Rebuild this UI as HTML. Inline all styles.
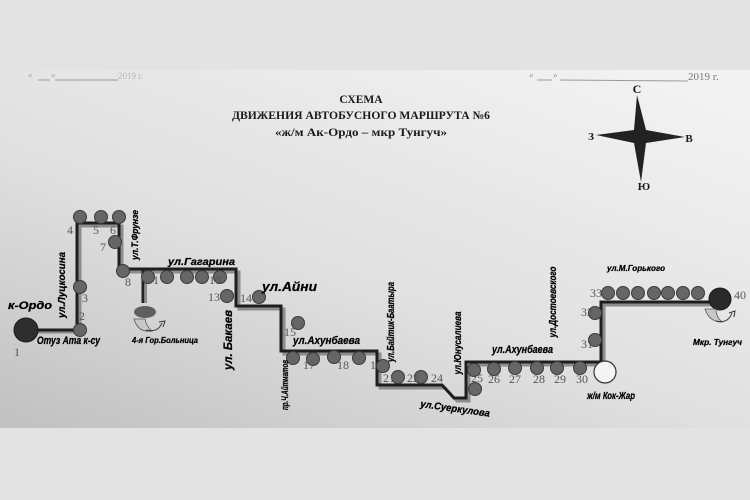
<!DOCTYPE html>
<html><head><meta charset="utf-8"><style>
html,body{margin:0;padding:0;background:#e3e3e3;}
svg{display:block;}
.n{font-family:"Liberation Serif",serif;font-size:12px;fill:#555;}
.s{font-family:"Liberation Sans",sans-serif;font-weight:bold;font-style:italic;fill:#000;stroke:#000;stroke-width:0.25;}
.t{font-family:"Liberation Serif",serif;font-weight:bold;fill:#1a1a1a;}
</style></head><body>
<svg width="750" height="500" viewBox="0 0 750 500" xmlns="http://www.w3.org/2000/svg">
<defs>
<linearGradient id="pg" x1="0.85" y1="0" x2="0.05" y2="1">
<stop offset="0" stop-color="#f2f2f2"/>
<stop offset="0.55" stop-color="#e0e0e0"/>
<stop offset="1" stop-color="#c2c2c2"/>
</linearGradient>
</defs>
<rect x="0" y="0" width="750" height="500" fill="#e3e3e3"/>
<rect x="0" y="70" width="750" height="358" fill="url(#pg)"/>

<!-- date lines -->
<g fill="none" stroke="#9a9a9a" stroke-width="1">
<line x1="38" y1="80" x2="50" y2="80"/><line x1="55" y1="80" x2="118" y2="80"/>
<line x1="537" y1="80" x2="552" y2="80"/><line x1="560" y1="80" x2="688" y2="81"/>
</g>
<text x="28" y="78" font-family="Liberation Serif" font-size="9" fill="#aaa">«</text>
<text x="51" y="78" font-family="Liberation Serif" font-size="9" fill="#aaa">»</text>
<text x="118" y="79" font-family="Liberation Serif" font-size="9" fill="#b5b5b5">2019 г.</text>
<text x="529" y="78" font-family="Liberation Serif" font-size="9" fill="#999">«</text>
<text x="553" y="78" font-family="Liberation Serif" font-size="9" fill="#999">»</text>
<text x="688" y="80" font-family="Liberation Serif" font-size="11" fill="#777">2019 г.</text>

<!-- title -->
<text class="t" x="361" y="103" font-size="11.5" text-anchor="middle">СХЕМА</text>
<text class="t" x="361" y="119" font-size="11.5" text-anchor="middle" textLength="258" lengthAdjust="spacingAndGlyphs">ДВИЖЕНИЯ АВТОБУСНОГО МАРШРУТА №6</text>
<text class="t" x="361" y="136" font-size="12" text-anchor="middle" textLength="172" lengthAdjust="spacingAndGlyphs">«ж/м Ак-Ордо – мкр  Тунгуч»</text>

<!-- compass -->
<polygon points="637,95 646,130 685,137 646,143 641,182 634,143 596,135 634,130" fill="#222"/>
<text class="t" x="637" y="93" font-size="12" text-anchor="middle">С</text>
<text class="t" x="689" y="142" font-size="11" text-anchor="middle">В</text>
<text class="t" x="591" y="140" font-size="11" text-anchor="middle">З</text>
<text class="t" x="644" y="190" font-size="11" text-anchor="middle">Ю</text>

<!-- route -->
<g fill="none" stroke-linejoin="miter">
<path d="M28,332 L80,332 L80,226 L122,226 L122,272 L239,272 L239,309 L284,309 L284,354 L380,354 L380,388 L445,388 L457,401 L469,401 L469,365 L604,365 L604,305 L720,305" stroke="#8c8c8c" stroke-width="3"/>
<path d="M26,330 L77,330 L77,223 L119,223 L119,269 L236,269 L236,306 L281,306 L281,351 L377,351 L377,385 L442,385 L454,398 L466,398 L466,362 L601,362 L601,302 L720,302" stroke="#1e1e1e" stroke-width="3"/>
<path d="M143,270 L143,303" stroke="#222" stroke-width="3"/>
<path d="M146,272 L146,303" stroke="#8c8c8c" stroke-width="2"/>
</g>

<!-- stops -->
<g fill="#666" stroke="#3a3a3a" stroke-width="1">
<circle cx="80" cy="330" r="6.5"/>
<circle cx="80" cy="287" r="6.5"/>
<circle cx="80" cy="217" r="6.5"/>
<circle cx="101" cy="217" r="6.5"/>
<circle cx="119" cy="217" r="6.5"/>
<circle cx="115" cy="242" r="6.5"/>
<circle cx="123" cy="271" r="6.5"/>
<circle cx="148" cy="277" r="6.5"/>
<circle cx="167" cy="277" r="6.5"/>
<circle cx="187" cy="277" r="6.5"/>
<circle cx="202" cy="277" r="6.5"/>
<circle cx="220" cy="277" r="6.5"/>
<circle cx="227" cy="296" r="6.5"/>
<circle cx="259" cy="297" r="6.5"/>
<circle cx="298" cy="323" r="6.5"/>
<circle cx="293" cy="358" r="6.5"/>
<circle cx="313" cy="359" r="6.5"/>
<circle cx="334" cy="357" r="6.5"/>
<circle cx="359" cy="358" r="6.5"/>
<circle cx="383" cy="366" r="6.5"/>
<circle cx="398" cy="377" r="6.5"/>
<circle cx="421" cy="377" r="6.5"/>
<circle cx="474" cy="370" r="6.5"/>
<circle cx="494" cy="369" r="6.5"/>
<circle cx="515" cy="368" r="6.5"/>
<circle cx="537" cy="368" r="6.5"/>
<circle cx="557" cy="368" r="6.5"/>
<circle cx="580" cy="368" r="6.5"/>
<circle cx="475" cy="389" r="6.5"/>
<circle cx="595" cy="340" r="6.5"/>
<circle cx="595" cy="313" r="6.5"/>
<circle cx="608" cy="293" r="6.5"/>
<circle cx="623" cy="293" r="6.5"/>
<circle cx="638" cy="293" r="6.5"/>
<circle cx="654" cy="293" r="6.5"/>
<circle cx="668" cy="293" r="6.5"/>
<circle cx="683" cy="293" r="6.5"/>
<circle cx="698" cy="293" r="6.5"/>
</g>
<circle cx="26" cy="330" r="12" fill="#2e2e2e" stroke="#1a1a1a"/>
<circle cx="720" cy="299" r="11" fill="#2a2a2a" stroke="#1a1a1a"/>
<circle cx="605" cy="372" r="11" fill="#f4f4f4" stroke="#333" stroke-width="1.2"/>

<!-- hospital icon -->
<ellipse cx="145" cy="312" rx="11" ry="6" fill="#5e5e5e"/>
<path d="M134,319 Q138,333 152,331 Q146,326 145,319 Z" fill="#c8c8c8" stroke="#555" stroke-width="0.8"/>
<path d="M146,330 Q158,333 162,323" fill="none" stroke="#333" stroke-width="1"/>
<path d="M159,322 L165,321 L163,327" fill="none" stroke="#333" stroke-width="1"/>
<!-- tunguch icon -->
<path d="M705,309 Q709,322 722,322 Q716,317 716,309 Z" fill="#c8c8c8" stroke="#555" stroke-width="0.8"/>
<path d="M716,321 Q728,324 732,313" fill="none" stroke="#333" stroke-width="1"/>
<path d="M729,313 L735,311 L734,317" fill="none" stroke="#333" stroke-width="1"/>

<!-- numbers -->
<text class="n" x="14" y="356">1</text>
<text class="n" x="79" y="320">2</text>
<text class="n" x="82" y="302">3</text>
<text class="n" x="67" y="234">4</text>
<text class="n" x="93" y="234">5</text>
<text class="n" x="110" y="234">6</text>
<text class="n" x="100" y="251">7</text>
<text class="n" x="125" y="286">8</text>
<text class="n" x="153" y="284">1</text>
<text class="n" x="209" y="284">10</text>
<text class="n" x="208" y="301">13</text>
<text class="n" x="240" y="302">14</text>
<text class="n" x="284" y="336">15</text>
<text class="n" x="303" y="369">17</text>
<text class="n" x="337" y="369">18</text>
<text class="n" x="370" y="369">1</text>
<text class="n" x="383" y="382">21</text>
<text class="n" x="407" y="382">22</text>
<text class="n" x="431" y="382">24</text>
<text class="n" x="471" y="382">25</text>
<text class="n" x="488" y="383">26</text>
<text class="n" x="509" y="383">27</text>
<text class="n" x="533" y="383">28</text>
<text class="n" x="554" y="383">29</text>
<text class="n" x="576" y="383">30</text>
<text class="n" x="581" y="348">31</text>
<text class="n" x="581" y="316">32</text>
<text class="n" x="590" y="297">33</text>
<text class="n" x="734" y="299">40</text>

<!-- street labels -->
<text class="s" x="8" y="309" font-size="11" textLength="44" lengthAdjust="spacingAndGlyphs">к-Ордо</text>
<text class="s" x="37" y="344" font-size="11" textLength="63" lengthAdjust="spacingAndGlyphs">Отуз Ата к-су</text>
<text class="s" x="62" y="288" font-size="10" text-anchor="middle" textLength="66" lengthAdjust="spacingAndGlyphs" transform="rotate(-90 62 285)">ул.Луцкосина</text>
<text class="s" x="135" y="238" font-size="9" text-anchor="middle" textLength="50" lengthAdjust="spacingAndGlyphs" transform="rotate(-90 135 235)">ул.Т.Фрунзе</text>
<text class="s" x="168" y="265" font-size="10" textLength="67" lengthAdjust="spacingAndGlyphs">ул.Гагарина</text>
<text class="s" x="132" y="343" font-size="8" textLength="66" lengthAdjust="spacingAndGlyphs">4-я Гор.Больница</text>
<text class="s" x="228" y="344" font-size="12" text-anchor="middle" textLength="60" lengthAdjust="spacingAndGlyphs" transform="rotate(-90 228 340)">ул. Бакаев</text>
<text class="s" x="262" y="291" font-size="13" textLength="55" lengthAdjust="spacingAndGlyphs">ул.Айни</text>
<text class="s" x="293" y="344" font-size="11" textLength="67" lengthAdjust="spacingAndGlyphs">ул.Ахунбаева</text>
<text class="s" x="285" y="388" font-size="9" text-anchor="middle" textLength="50" lengthAdjust="spacingAndGlyphs" transform="rotate(-90 285 385)">пр.Ч.Айтматов</text>
<text class="s" x="390" y="326" font-size="10" text-anchor="middle" textLength="80" lengthAdjust="spacingAndGlyphs" transform="rotate(-90 390 322)">ул.Байтик-Баатыра</text>
<text class="s" x="457" y="347" font-size="10" text-anchor="middle" textLength="63" lengthAdjust="spacingAndGlyphs" transform="rotate(-90 457 343)">ул.Юнусалиева</text>
<text class="s" x="420" y="407" font-size="10" textLength="70" lengthAdjust="spacingAndGlyphs" transform="rotate(8 420 407)">ул.Суеркулова</text>
<text class="s" x="492" y="353" font-size="11" textLength="61" lengthAdjust="spacingAndGlyphs">ул.Ахунбаева</text>
<text class="s" x="552" y="306" font-size="10" text-anchor="middle" textLength="71" lengthAdjust="spacingAndGlyphs" transform="rotate(-90 552 302)">ул.Достоевского</text>
<text class="s" x="607" y="271" font-size="8" textLength="58" lengthAdjust="spacingAndGlyphs">ул.М.Горького</text>
<text class="s" x="587" y="399" font-size="10" textLength="48" lengthAdjust="spacingAndGlyphs">ж/м Кок-Жар</text>
<text class="s" x="693" y="345" font-size="8" textLength="49" lengthAdjust="spacingAndGlyphs">Мкр. Тунгуч</text>
</svg>
</body></html>
